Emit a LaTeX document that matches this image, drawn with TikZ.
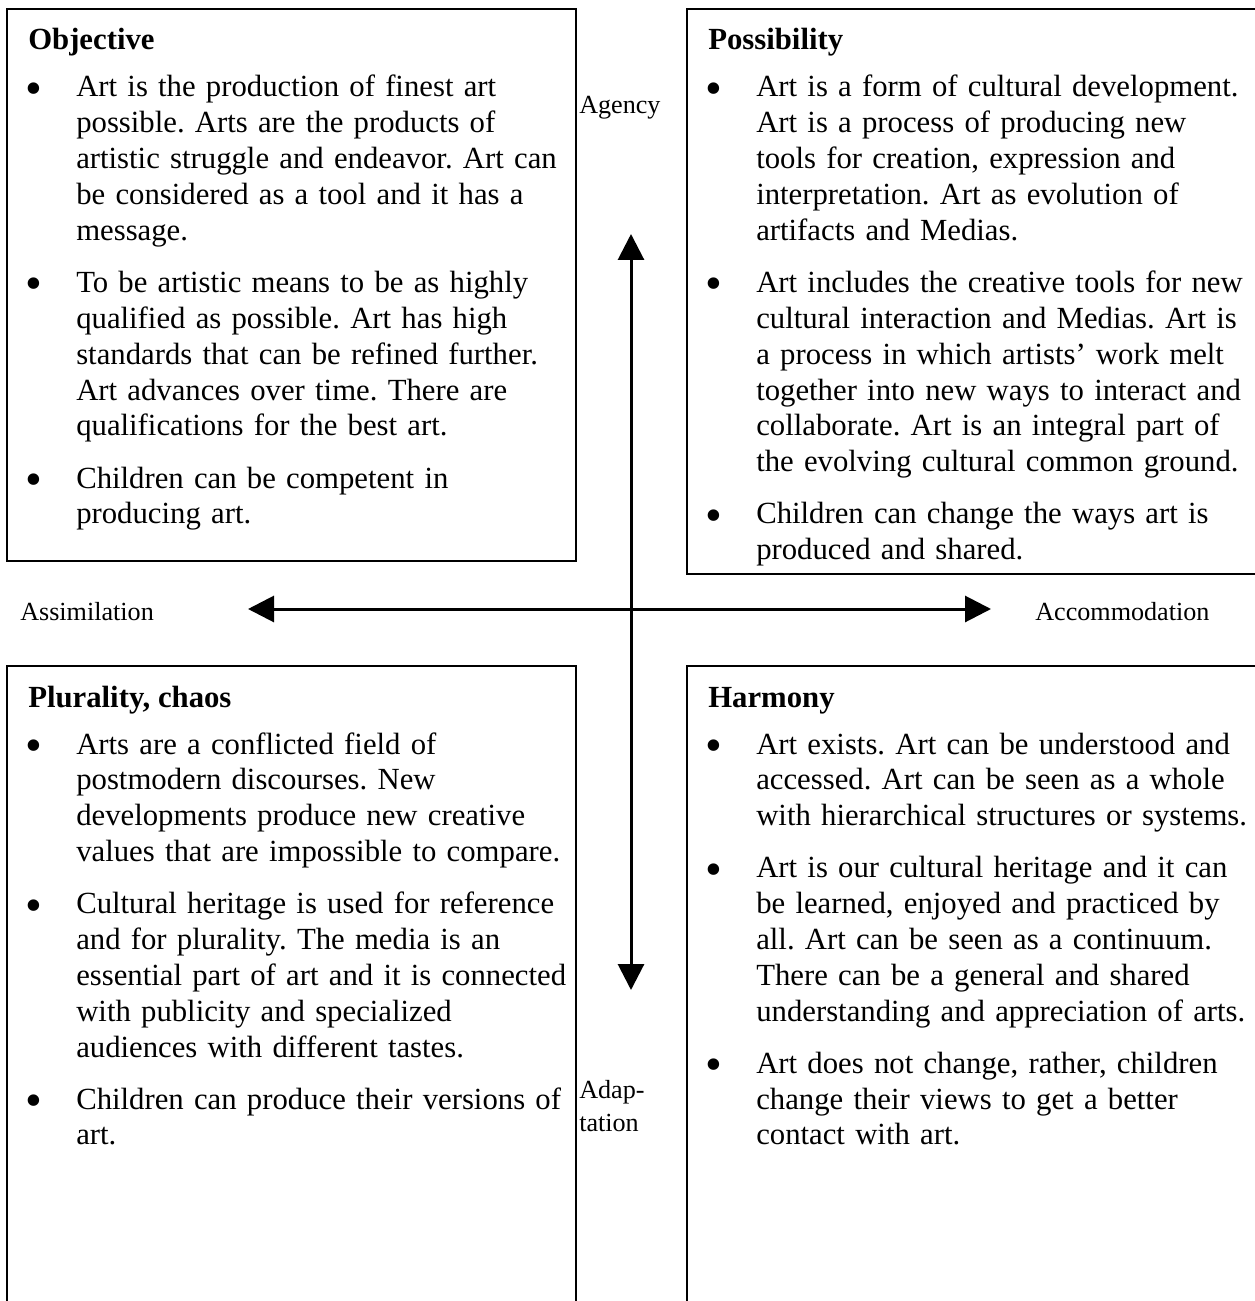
\documentclass[tikz,border=0pt]{standalone}
\usepackage{fontspec}
\setmainfont{Liberation Serif}
\usetikzlibrary{arrows.meta}
\frenchspacing

\tikzset{
  quad/.style={draw, line width=1.5pt},
  axis/.style={line width=2.25pt, {Triangle[length=19.5pt,width=19.5pt]}-{Triangle[length=19.5pt,width=19.5pt]}},
  head/.style={anchor=base west, inner sep=0pt, font=\fontsize{23.05pt}{26.9pt}\selectfont\bfseries},
  bul/.style={anchor=base west, inner sep=0pt, xshift=-1.8pt, yshift=-5.55pt, font=\fontsize{36pt}{36pt}\selectfont},
  body/.style={anchor=base west, inner sep=0pt, text width=400pt, align=left, font=\fontsize{23.05pt}{26.9pt}\selectfont\frenchspacing},
  axlabel/.style={anchor=base west, inner sep=0pt, text width=150pt, align=left, font=\fontsize{19.6pt}{24.75pt}\selectfont}
}

\begin{document}
\begin{tikzpicture}[x=0.75pt,y=0.75pt,yscale=-1,xscale=1]
\useasboundingbox (0,0) rectangle (1254,1301);

%Shape: Rectangle [Objective]
\draw [quad] (7,9) rectangle (576,561);
%Shape: Rectangle [Possibility]
\draw [quad] (687,9) rectangle (1262,574);
%Shape: Rectangle [Plurality]
\draw [quad] (7,666) rectangle (576,1312);
%Shape: Rectangle [Harmony]
\draw [quad] (687,666) rectangle (1262,1312);

%Axes
\coordinate (agencyTip) at (631,234);
\coordinate (adaptTip) at (631,990);
\coordinate (assimTip) at (248,609);
\coordinate (accomTip) at (991,609);
\draw [axis] (adaptTip) -- (agencyTip);
\draw [axis] (assimTip) -- (accomTip);

% Text Node
\draw (579,114) node (agency) [axlabel] {Agency};
% Text Node
\draw (20,620) node (assim) [axlabel] {Assimilation};
% Text Node
\draw (1035,620) node (accom) [axlabel] {Accommodation};
% Text Node
\draw (579,1098) node (adapt) [axlabel] {Adap-\\tation};

% Text Node
\draw (28,50) node (objHead) [head] {Objective};
\draw (28,97) node (objBulA) [bul] {\textbullet};
\draw (76,97) node (objTxtA) [body] {Art is the production of finest art\\possible. Arts are the products of\\artistic struggle and endeavor. Art can\\be considered as a tool and it has a\\message.};
\draw (28,292.5) node (objBulB) [bul] {\textbullet};
\draw (76,292.5) node (objTxtB) [body] {To be artistic means to be as highly\\qualified as possible. Art has high\\standards that can be refined further.\\Art advances over time. There are\\qualifications for the best art.};
\draw (28,488) node (objBulC) [bul] {\textbullet};
\draw (76,488) node (objTxtC) [body] {Children can be competent in\\producing art.};

% Text Node
\draw (708,50) node (posHead) [head] {Possibility};
\draw (708,97) node (posBulA) [bul] {\textbullet};
\draw (756,97) node (posTxtA) [body] {Art is a form of cultural development.\\Art is a process of producing new\\tools for creation, expression and\\interpretation. Art as evolution of\\artifacts and Medias.};
\draw (708,292.5) node (posBulB) [bul] {\textbullet};
\draw (756,292.5) node (posTxtB) [body] {Art includes the creative tools for new\\cultural interaction and Medias. Art is\\a process in which artists' work melt\\together into new ways to interact and\\collaborate. Art is an integral part of\\the evolving cultural common ground.};
\draw (708,523.9) node (posBulC) [bul] {\textbullet};
\draw (756,523.9) node (posTxtC) [body] {Children can change the ways art is\\produced and shared.};

% Text Node
\draw (28,707) node (pluHead) [head] {Plurality, chaos};
\draw (28,754) node (pluBulA) [bul] {\textbullet};
\draw (76,754) node (pluTxtA) [body] {Arts are a conflicted field of\\postmodern discourses. New\\developments produce new creative\\values that are impossible to compare.};
\draw (28,913.6) node (pluBulB) [bul] {\textbullet};
\draw (76,913.6) node (pluTxtB) [body] {Cultural heritage is used for reference\\and for plurality. The media is an\\essential part of art and it is connected\\with publicity and specialized\\audiences with different tastes.};
\draw (28,1109.1) node (pluBulC) [bul] {\textbullet};
\draw (76,1109.1) node (pluTxtC) [body] {Children can produce their versions of\\art.};

% Text Node
\draw (708,707) node (harHead) [head] {Harmony};
\draw (708,754) node (harBulA) [bul] {\textbullet};
\draw (756,754) node (harTxtA) [body] {Art exists. Art can be understood and\\accessed. Art can be seen as a whole\\with hierarchical structures or systems.};
\draw (708,877.7) node (harBulB) [bul] {\textbullet};
\draw (756,877.7) node (harTxtB) [body] {Art is our cultural heritage and it can\\be learned, enjoyed and practiced by\\all. Art can be seen as a continuum.\\There can be a general and shared\\understanding and appreciation of arts.};
\draw (708,1073.2) node (harBulC) [bul] {\textbullet};
\draw (756,1073.2) node (harTxtC) [body] {Art does not change, rather, children\\change their views to get a better\\contact with art.};

\end{tikzpicture}
\end{document}
